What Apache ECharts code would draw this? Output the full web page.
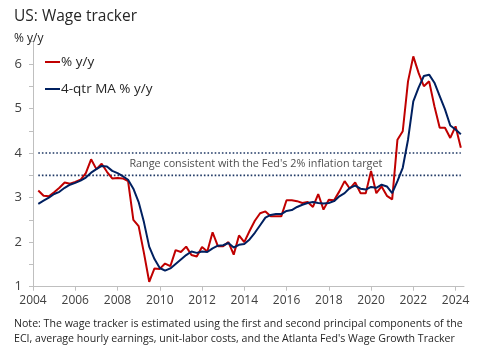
<!DOCTYPE html>
<html>
<head>
<meta charset="utf-8">
<script src="https://cdn.jsdelivr.net/npm/echarts@6/dist/echarts.min.js"></script>
<style>
html,body{margin:0;padding:0;background:#fff;}
#chart{width:487px;height:355px;}
</style>
</head>
<body>
<div id="chart"></div>
<script>
// ---- Data ----
const firstQuarter = 2004.25;   // first observation (decimal year)
const quarterStep = 0.25;

const wageYoY = [
  3.16, 3.04, 3.03, 3.12, 3.22, 3.34, 3.31, 3.35, 3.40, 3.55, 3.86, 3.64, 3.76, 3.58, 3.43, 3.44,
  3.43, 3.37, 2.50, 2.36, 1.76, 1.11, 1.41, 1.40, 1.52, 1.46, 1.82, 1.78, 1.90, 1.71, 1.68, 1.89,
  1.79, 2.22, 1.91, 1.91, 2.00, 1.72, 2.15, 2.00, 2.25, 2.48, 2.65, 2.69, 2.58, 2.58, 2.58, 2.94,
  2.94, 2.92, 2.88, 2.90, 2.79, 3.08, 2.73, 2.95, 2.94, 3.14, 3.37, 3.20, 3.34, 3.10, 3.10, 3.60,
  3.10, 3.25, 3.04, 2.96, 4.30, 4.49, 5.61, 6.17, 5.80, 5.50, 5.61, 5.05, 4.57, 4.57, 4.34, 4.60,
  4.12
];

const wageMA4 = [
  2.86, 2.93, 3.00, 3.08, 3.13, 3.22, 3.29, 3.33, 3.38, 3.45, 3.56, 3.64, 3.71, 3.70, 3.60, 3.55,
  3.48, 3.40, 3.20, 2.90, 2.45, 1.90, 1.62, 1.42, 1.36, 1.41, 1.51, 1.61, 1.71, 1.79, 1.76, 1.79,
  1.78, 1.86, 1.92, 1.93, 1.98, 1.88, 1.94, 1.96, 2.06, 2.21, 2.38, 2.55, 2.61, 2.63, 2.63, 2.70,
  2.72, 2.79, 2.84, 2.88, 2.90, 2.88, 2.87, 2.88, 2.92, 3.03, 3.10, 3.22, 3.27, 3.20, 3.18, 3.24,
  3.22, 3.29, 3.25, 3.10, 3.37, 3.67, 4.30, 5.16, 5.47, 5.73, 5.76, 5.58, 5.28, 4.98, 4.62, 4.53,
  4.42
];

const xTickYears = [2004, 2006, 2008, 2010, 2012, 2014, 2016, 2018, 2020, 2022, 2024];
const yTickLabels = [1, 2, 3, 4, 5, 6];

const rangeBounds = [3.5, 4.0];
const rangeLabel = "Range consistent with the Fed's 2% inflation target";
const rangeLabelAt = [2014.55, 3.76];

const seriesNames = ['% y/y', '4-qtr MA % y/y'];
const titleText = 'US: Wage tracker';
const unitText = '% y/y';
const noteText = "Note: The wage tracker is estimated using the first and second principal components of the\nECI, average hourly earnings, unit-labor costs, and the Atlanta Fed's Wage Growth Tracker";

// ---- Build ----
const quarters = wageYoY.map((_, i) => firstQuarter + i * quarterStep);
const pairs = (vals) => vals.map((v, i) => [quarters[i], v]);
const lastQ = quarters[quarters.length - 1];

const FONT = 'Open Sans';
const RED = '#C00000';
const NAVY = '#002060';
const AXIS = '#BFBFBF';
const TXT = '#404040';

const rangeSeries = rangeBounds.map(b => ({
  type: 'line',
  name: 'range' + b,
  data: [[firstQuarter, b], [lastQ, b]],
  symbol: 'none',
  silent: true,
  lineStyle: { color: '#1F3864', width: 1.6, type: [1.6, 2] },
  z: 1
}));

const chart = echarts.init(document.getElementById('chart'), null, { renderer: 'canvas' });
chart.setOption({
  animation: false,
  backgroundColor: '#fff',
  textStyle: { fontFamily: FONT },
  title: [
    { text: titleText, left: 12, top: 4, padding: [5, 5, 5, 2], textStyle: { fontFamily: FONT, fontSize: 15.5, fontWeight: 'normal', color: '#262626' } },
    { text: unitText, left: 13, top: 28, padding: [5, 5, 5, 1], textStyle: { fontFamily: FONT, fontSize: 12, fontWeight: 'normal', color: '#262626' } },
    { text: noteText, left: 13, top: 311, padding: [5, 5, 5, 1], textStyle: { fontFamily: FONT, fontSize: 10.6, fontWeight: 'normal', color: '#262626', lineHeight: 15 } }
  ],
  legend: {
    data: seriesNames,
    orient: 'vertical',
    left: 45,
    top: 55,
    padding: 0,
    icon: 'rect',
    itemWidth: 15,
    itemHeight: 2,
    itemGap: 13,
    textStyle: { fontFamily: FONT, fontSize: 13.5, color: '#262626', padding: [0, 0, 0, -4] }
  },
  grid: { left: 33, right: 23, top: 41.7, bottom: 68.3 },
  xAxis: {
    type: 'value',
    min: 2004,
    max: 2024.4,
    interval: 2,
    splitLine: { show: false },
    axisLine: { lineStyle: { color: AXIS, width: 1 } },
    axisTick: { length: 4, lineStyle: { color: AXIS }, customValues: xTickYears },
    axisLabel: { color: TXT, fontSize: 12, fontFamily: FONT, margin: 8, customValues: xTickYears, formatter: v => String(v) }
  },
  yAxis: {
    type: 'value',
    min: 1,
    max: 6.5,
    interval: 0.5,
    splitLine: { show: false },
    axisLine: { show: true, lineStyle: { color: AXIS, width: 1 } },
    axisTick: { show: true, length: 4, lineStyle: { color: AXIS } },
    axisLabel: { color: TXT, fontSize: 13, fontFamily: FONT, margin: 11,
      formatter: v => (yTickLabels.indexOf(v) >= 0 ? String(v) : '') }
  },
  series: [
    ...rangeSeries,
    {
      type: 'scatter',
      name: 'rangeLabel',
      data: [rangeLabelAt],
      symbolSize: 1,
      itemStyle: { color: 'rgba(0,0,0,0)' },
      silent: true,
      label: { show: true, position: 'inside', formatter: rangeLabel, color: '#1a1a1a', fontSize: 10.8, fontFamily: FONT }
    },
    {
      type: 'line',
      name: seriesNames[0],
      data: pairs(wageYoY),
      symbol: 'none',
      lineStyle: { color: RED, width: 2 },
      itemStyle: { color: RED },
      z: 3
    },
    {
      type: 'line',
      name: seriesNames[1],
      data: pairs(wageMA4),
      symbol: 'none',
      lineStyle: { color: NAVY, width: 2 },
      itemStyle: { color: NAVY },
      z: 4
    }
  ]
});
</script>
</body>
</html>
